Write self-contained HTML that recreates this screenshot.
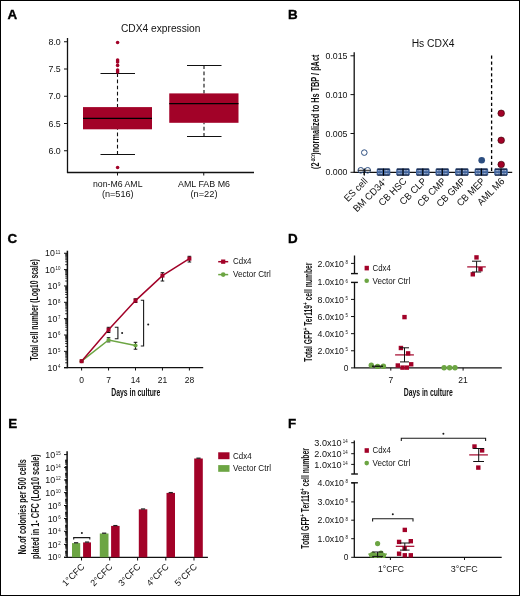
<!DOCTYPE html>
<html><head><meta charset="utf-8"><style>
html,body{margin:0;padding:0;background:#fff;}
svg{display:block;font-family:"Liberation Sans", sans-serif;will-change:transform;}
</style></head><body>
<svg width="520" height="596" viewBox="0 0 520 596">
<rect x="0" y="0" width="520" height="596" fill="#fff"/>
<rect x="0.5" y="0.5" width="519" height="595" fill="none" stroke="#000" stroke-width="1"/>
<text x="7.5" y="18.8" font-size="13.4" text-anchor="start" font-weight="bold" fill="#000" stroke="#000" stroke-width="0.35">A</text>
<text x="288.0" y="18.9" font-size="13.4" text-anchor="start" font-weight="bold" fill="#000" stroke="#000" stroke-width="0.35">B</text>
<text x="7.6" y="242.6" font-size="13.4" text-anchor="start" font-weight="bold" fill="#000" stroke="#000" stroke-width="0.35">C</text>
<text x="288.0" y="242.6" font-size="13.4" text-anchor="start" font-weight="bold" fill="#000" stroke="#000" stroke-width="0.35">D</text>
<text x="8.3" y="428.1" font-size="13.4" text-anchor="start" font-weight="bold" fill="#000" stroke="#000" stroke-width="0.35">E</text>
<text x="288.0" y="428.0" font-size="13.4" text-anchor="start" font-weight="bold" fill="#000" stroke="#000" stroke-width="0.35">F</text>
<text x="160.7" y="31.7" font-size="10" text-anchor="middle" font-weight="normal" fill="#111" textLength="79.4" lengthAdjust="spacingAndGlyphs" >CDX4 expression</text>
<line x1="67.5" y1="38" x2="67.5" y2="173" stroke="#111" stroke-width="1.3" />
<line x1="67" y1="172.5" x2="254" y2="172.5" stroke="#111" stroke-width="1.3" />
<line x1="64" y1="41.75" x2="67.5" y2="41.75" stroke="#111" stroke-width="1" />
<text x="60.8" y="44.75" font-size="8.5" text-anchor="end" font-weight="normal" fill="#111" textLength="12.3" lengthAdjust="spacingAndGlyphs" >8.0</text>
<line x1="64" y1="69" x2="67.5" y2="69" stroke="#111" stroke-width="1" />
<text x="60.8" y="72" font-size="8.5" text-anchor="end" font-weight="normal" fill="#111" textLength="12.3" lengthAdjust="spacingAndGlyphs" >7.5</text>
<line x1="64" y1="96.25" x2="67.5" y2="96.25" stroke="#111" stroke-width="1" />
<text x="60.8" y="99.25" font-size="8.5" text-anchor="end" font-weight="normal" fill="#111" textLength="12.3" lengthAdjust="spacingAndGlyphs" >7.0</text>
<line x1="64" y1="123.5" x2="67.5" y2="123.5" stroke="#111" stroke-width="1" />
<text x="60.8" y="126.5" font-size="8.5" text-anchor="end" font-weight="normal" fill="#111" textLength="12.3" lengthAdjust="spacingAndGlyphs" >6.5</text>
<line x1="64" y1="150.75" x2="67.5" y2="150.75" stroke="#111" stroke-width="1" />
<text x="60.8" y="153.75" font-size="8.5" text-anchor="end" font-weight="normal" fill="#111" textLength="12.3" lengthAdjust="spacingAndGlyphs" >6.0</text>
<line x1="117.5" y1="172.5" x2="117.5" y2="175.5" stroke="#111" stroke-width="1" />
<line x1="203.75" y1="172.5" x2="203.75" y2="175.5" stroke="#111" stroke-width="1" />
<line x1="117.5" y1="73.5" x2="117.5" y2="107.1" stroke="#111" stroke-width="1.1" stroke-dasharray="3.6,2.5"/>
<line x1="117.5" y1="154.5" x2="117.5" y2="129.3" stroke="#111" stroke-width="1.1" stroke-dasharray="3.6,2.5"/>
<line x1="100.5" y1="73.5" x2="135" y2="73.5" stroke="#111" stroke-width="1" />
<line x1="100.5" y1="154.5" x2="135" y2="154.5" stroke="#111" stroke-width="1" />
<rect x="83" y="107.1" width="69" height="22.200000000000017" fill="#a20228" />
<line x1="83" y1="118.4" x2="152" y2="118.4" stroke="#000" stroke-width="1.4" />
<line x1="204" y1="65.5" x2="204" y2="93.4" stroke="#111" stroke-width="1.1" stroke-dasharray="3.6,2.5"/>
<line x1="204" y1="136.5" x2="204" y2="122.8" stroke="#111" stroke-width="1.1" stroke-dasharray="3.6,2.5"/>
<line x1="187" y1="65.5" x2="221.5" y2="65.5" stroke="#111" stroke-width="1" />
<line x1="187" y1="136.5" x2="221.5" y2="136.5" stroke="#111" stroke-width="1" />
<rect x="169.25" y="93.4" width="69.25" height="29.39999999999999" fill="#a20228" />
<line x1="169.25" y1="103.6" x2="238.5" y2="103.6" stroke="#000" stroke-width="1.4" />
<circle cx="117.6" cy="42.5" r="1.8" fill="#a20228" stroke="none" stroke-width="1"/>
<circle cx="117.6" cy="60" r="1.8" fill="#a20228" stroke="none" stroke-width="1"/>
<circle cx="117.6" cy="61.9" r="1.8" fill="#a20228" stroke="none" stroke-width="1"/>
<circle cx="117.6" cy="65.4" r="1.8" fill="#a20228" stroke="none" stroke-width="1"/>
<circle cx="117.6" cy="70" r="1.8" fill="#a20228" stroke="none" stroke-width="1"/>
<circle cx="117.6" cy="71.9" r="1.8" fill="#a20228" stroke="none" stroke-width="1"/>
<circle cx="117.6" cy="167.5" r="1.8" fill="#a20228" stroke="none" stroke-width="1"/>
<text x="117.75" y="187.1" font-size="9.3" text-anchor="middle" font-weight="normal" fill="#111" textLength="49.5" lengthAdjust="spacingAndGlyphs" >non-M6 AML</text>
<text x="117.75" y="197.2" font-size="9.3" text-anchor="middle" font-weight="normal" fill="#111" textLength="31.7" lengthAdjust="spacingAndGlyphs" >(n=516)</text>
<text x="204" y="187.1" font-size="9.3" text-anchor="middle" font-weight="normal" fill="#111" textLength="52" lengthAdjust="spacingAndGlyphs" >AML FAB M6</text>
<text x="204" y="197.2" font-size="9.3" text-anchor="middle" font-weight="normal" fill="#111" textLength="27" lengthAdjust="spacingAndGlyphs" >(n=22)</text>
<text x="433.1" y="46.8" font-size="10" text-anchor="middle" font-weight="normal" fill="#111" textLength="42.9" lengthAdjust="spacingAndGlyphs" >Hs CDX4</text>
<line x1="354.2" y1="52.3" x2="354.2" y2="172.8" stroke="#111" stroke-width="1.3" />
<line x1="353.7" y1="172.3" x2="512.2" y2="172.3" stroke="#111" stroke-width="1.3" />
<line x1="350.5" y1="55.8" x2="354.2" y2="55.8" stroke="#111" stroke-width="1" />
<text x="347.5" y="58.8" font-size="8.5" text-anchor="end" font-weight="normal" fill="#111" textLength="22" lengthAdjust="spacingAndGlyphs" >0.015</text>
<line x1="350.5" y1="94.6" x2="354.2" y2="94.6" stroke="#111" stroke-width="1" />
<text x="347.5" y="97.6" font-size="8.5" text-anchor="end" font-weight="normal" fill="#111" textLength="22" lengthAdjust="spacingAndGlyphs" >0.010</text>
<line x1="350.5" y1="133.5" x2="354.2" y2="133.5" stroke="#111" stroke-width="1" />
<text x="347.5" y="136.5" font-size="8.5" text-anchor="end" font-weight="normal" fill="#111" textLength="22" lengthAdjust="spacingAndGlyphs" >0.005</text>
<line x1="350.5" y1="172.3" x2="354.2" y2="172.3" stroke="#111" stroke-width="1" />
<text x="347.5" y="175.3" font-size="8.5" text-anchor="end" font-weight="normal" fill="#111" textLength="22" lengthAdjust="spacingAndGlyphs" >0.000</text>
<line x1="364" y1="172.3" x2="364" y2="175.2" stroke="#111" stroke-width="1" />
<text x="368.2" y="181.9" font-size="9.8" text-anchor="end" font-weight="normal" fill="#111" textLength="28.7" lengthAdjust="spacingAndGlyphs" transform="rotate(-45 368.2 181.9)" >ES cell</text>
<line x1="383.5" y1="172.3" x2="383.5" y2="175.2" stroke="#111" stroke-width="1" />
<text x="387.7" y="181.9" font-size="9.8" text-anchor="end" font-weight="normal" fill="#111" textLength="43.4" lengthAdjust="spacingAndGlyphs" transform="rotate(-45 387.7 181.9)" >BM CD34<tspan font-size="5.5" dy="-3">+</tspan></text>
<line x1="403" y1="172.3" x2="403" y2="175.2" stroke="#111" stroke-width="1" />
<text x="407.2" y="181.9" font-size="9.8" text-anchor="end" font-weight="normal" fill="#111" textLength="34.8" lengthAdjust="spacingAndGlyphs" transform="rotate(-45 407.2 181.9)" >CB HSC</text>
<line x1="422.8" y1="172.3" x2="422.8" y2="175.2" stroke="#111" stroke-width="1" />
<text x="427.0" y="181.9" font-size="9.8" text-anchor="end" font-weight="normal" fill="#111" textLength="33.3" lengthAdjust="spacingAndGlyphs" transform="rotate(-45 427.0 181.9)" >CB CLP</text>
<line x1="442.3" y1="172.3" x2="442.3" y2="175.2" stroke="#111" stroke-width="1" />
<text x="446.5" y="181.9" font-size="9.8" text-anchor="end" font-weight="normal" fill="#111" textLength="35.8" lengthAdjust="spacingAndGlyphs" transform="rotate(-45 446.5 181.9)" >CB CMP</text>
<line x1="461.9" y1="172.3" x2="461.9" y2="175.2" stroke="#111" stroke-width="1" />
<text x="466.09999999999997" y="181.9" font-size="9.8" text-anchor="end" font-weight="normal" fill="#111" textLength="36.3" lengthAdjust="spacingAndGlyphs" transform="rotate(-45 466.09999999999997 181.9)" >CB GMP</text>
<line x1="481.4" y1="172.3" x2="481.4" y2="175.2" stroke="#111" stroke-width="1" />
<text x="485.59999999999997" y="181.9" font-size="9.8" text-anchor="end" font-weight="normal" fill="#111" textLength="35.3" lengthAdjust="spacingAndGlyphs" transform="rotate(-45 485.59999999999997 181.9)" >CB MEP</text>
<line x1="501" y1="172.3" x2="501" y2="175.2" stroke="#111" stroke-width="1" />
<text x="505.2" y="181.9" font-size="9.8" text-anchor="end" font-weight="normal" fill="#111" textLength="34.0" lengthAdjust="spacingAndGlyphs" transform="rotate(-45 505.2 181.9)" >AML M6</text>
<line x1="491.6" y1="55.5" x2="491.6" y2="172.3" stroke="#000" stroke-width="1.3" stroke-dasharray="3.3,2.6"/>
<circle cx="364.3" cy="152.6" r="2.8" fill="none" stroke="#2d4e80" stroke-width="1"/>
<circle cx="360.8" cy="170.3" r="2.8" fill="none" stroke="#2d4e80" stroke-width="1"/>
<circle cx="367.7" cy="170.3" r="2.8" fill="none" stroke="#2d4e80" stroke-width="1"/>
<line x1="358" y1="170.3" x2="370.8" y2="170.3" stroke="#222" stroke-width="1.0" />
<line x1="364.4" y1="168.5" x2="364.4" y2="175.6" stroke="#111" stroke-width="1.1" />
<rect x="376.7" y="168.6" width="13.6" height="7" rx="1.3" fill="#42659e"/>
<line x1="377.5" y1="169.1" x2="389.5" y2="169.1" stroke="#0a1630" stroke-width="1.1" />
<line x1="377.5" y1="175.1" x2="389.5" y2="175.1" stroke="#0a1630" stroke-width="1.1" />
<line x1="378.3" y1="170.7" x2="382.3" y2="170.7" stroke="#e8edf5" stroke-width="0.8" stroke-dasharray="0.9,0.5"/>
<line x1="384.7" y1="170.7" x2="388.7" y2="170.7" stroke="#e8edf5" stroke-width="0.8" stroke-dasharray="0.9,0.5"/>
<line x1="378.3" y1="173.7" x2="382.3" y2="173.7" stroke="#e8edf5" stroke-width="0.8" stroke-dasharray="0.9,0.5"/>
<line x1="384.7" y1="173.7" x2="388.7" y2="173.7" stroke="#e8edf5" stroke-width="0.8" stroke-dasharray="0.9,0.5"/>
<line x1="383.5" y1="168.6" x2="383.5" y2="175.6" stroke="#000" stroke-width="1.1" />
<rect x="396.2" y="168.6" width="13.6" height="7" rx="1.3" fill="#42659e"/>
<line x1="397.0" y1="169.1" x2="409.0" y2="169.1" stroke="#0a1630" stroke-width="1.1" />
<line x1="397.0" y1="175.1" x2="409.0" y2="175.1" stroke="#0a1630" stroke-width="1.1" />
<line x1="397.8" y1="170.7" x2="401.8" y2="170.7" stroke="#e8edf5" stroke-width="0.8" stroke-dasharray="0.9,0.5"/>
<line x1="404.2" y1="170.7" x2="408.2" y2="170.7" stroke="#e8edf5" stroke-width="0.8" stroke-dasharray="0.9,0.5"/>
<line x1="397.8" y1="173.7" x2="401.8" y2="173.7" stroke="#e8edf5" stroke-width="0.8" stroke-dasharray="0.9,0.5"/>
<line x1="404.2" y1="173.7" x2="408.2" y2="173.7" stroke="#e8edf5" stroke-width="0.8" stroke-dasharray="0.9,0.5"/>
<line x1="403" y1="168.6" x2="403" y2="175.6" stroke="#000" stroke-width="1.1" />
<rect x="416.0" y="168.6" width="13.6" height="7" rx="1.3" fill="#42659e"/>
<line x1="416.8" y1="169.1" x2="428.8" y2="169.1" stroke="#0a1630" stroke-width="1.1" />
<line x1="416.8" y1="175.1" x2="428.8" y2="175.1" stroke="#0a1630" stroke-width="1.1" />
<line x1="417.6" y1="170.7" x2="421.6" y2="170.7" stroke="#e8edf5" stroke-width="0.8" stroke-dasharray="0.9,0.5"/>
<line x1="424.0" y1="170.7" x2="428.0" y2="170.7" stroke="#e8edf5" stroke-width="0.8" stroke-dasharray="0.9,0.5"/>
<line x1="417.6" y1="173.7" x2="421.6" y2="173.7" stroke="#e8edf5" stroke-width="0.8" stroke-dasharray="0.9,0.5"/>
<line x1="424.0" y1="173.7" x2="428.0" y2="173.7" stroke="#e8edf5" stroke-width="0.8" stroke-dasharray="0.9,0.5"/>
<line x1="422.8" y1="168.6" x2="422.8" y2="175.6" stroke="#000" stroke-width="1.1" />
<rect x="435.5" y="168.6" width="13.6" height="7" rx="1.3" fill="#42659e"/>
<line x1="436.3" y1="169.1" x2="448.3" y2="169.1" stroke="#0a1630" stroke-width="1.1" />
<line x1="436.3" y1="175.1" x2="448.3" y2="175.1" stroke="#0a1630" stroke-width="1.1" />
<line x1="437.1" y1="170.7" x2="441.1" y2="170.7" stroke="#e8edf5" stroke-width="0.8" stroke-dasharray="0.9,0.5"/>
<line x1="443.5" y1="170.7" x2="447.5" y2="170.7" stroke="#e8edf5" stroke-width="0.8" stroke-dasharray="0.9,0.5"/>
<line x1="437.1" y1="173.7" x2="441.1" y2="173.7" stroke="#e8edf5" stroke-width="0.8" stroke-dasharray="0.9,0.5"/>
<line x1="443.5" y1="173.7" x2="447.5" y2="173.7" stroke="#e8edf5" stroke-width="0.8" stroke-dasharray="0.9,0.5"/>
<line x1="442.3" y1="168.6" x2="442.3" y2="175.6" stroke="#000" stroke-width="1.1" />
<rect x="455.09999999999997" y="168.6" width="13.6" height="7" rx="1.3" fill="#42659e"/>
<line x1="455.9" y1="169.1" x2="467.9" y2="169.1" stroke="#0a1630" stroke-width="1.1" />
<line x1="455.9" y1="175.1" x2="467.9" y2="175.1" stroke="#0a1630" stroke-width="1.1" />
<line x1="456.7" y1="170.7" x2="460.7" y2="170.7" stroke="#e8edf5" stroke-width="0.8" stroke-dasharray="0.9,0.5"/>
<line x1="463.09999999999997" y1="170.7" x2="467.09999999999997" y2="170.7" stroke="#e8edf5" stroke-width="0.8" stroke-dasharray="0.9,0.5"/>
<line x1="456.7" y1="173.7" x2="460.7" y2="173.7" stroke="#e8edf5" stroke-width="0.8" stroke-dasharray="0.9,0.5"/>
<line x1="463.09999999999997" y1="173.7" x2="467.09999999999997" y2="173.7" stroke="#e8edf5" stroke-width="0.8" stroke-dasharray="0.9,0.5"/>
<line x1="461.9" y1="168.6" x2="461.9" y2="175.6" stroke="#000" stroke-width="1.1" />
<rect x="474.59999999999997" y="168.6" width="13.6" height="7" rx="1.3" fill="#42659e"/>
<line x1="475.4" y1="169.1" x2="487.4" y2="169.1" stroke="#0a1630" stroke-width="1.1" />
<line x1="475.4" y1="175.1" x2="487.4" y2="175.1" stroke="#0a1630" stroke-width="1.1" />
<line x1="476.2" y1="170.7" x2="480.2" y2="170.7" stroke="#e8edf5" stroke-width="0.8" stroke-dasharray="0.9,0.5"/>
<line x1="482.59999999999997" y1="170.7" x2="486.59999999999997" y2="170.7" stroke="#e8edf5" stroke-width="0.8" stroke-dasharray="0.9,0.5"/>
<line x1="476.2" y1="173.7" x2="480.2" y2="173.7" stroke="#e8edf5" stroke-width="0.8" stroke-dasharray="0.9,0.5"/>
<line x1="482.59999999999997" y1="173.7" x2="486.59999999999997" y2="173.7" stroke="#e8edf5" stroke-width="0.8" stroke-dasharray="0.9,0.5"/>
<line x1="481.4" y1="168.6" x2="481.4" y2="175.6" stroke="#000" stroke-width="1.1" />
<rect x="494.2" y="168.6" width="13.6" height="7" rx="1.3" fill="#42659e"/>
<line x1="495.0" y1="169.1" x2="507.0" y2="169.1" stroke="#0a1630" stroke-width="1.1" />
<line x1="495.0" y1="175.1" x2="507.0" y2="175.1" stroke="#0a1630" stroke-width="1.1" />
<line x1="495.8" y1="170.7" x2="499.8" y2="170.7" stroke="#e8edf5" stroke-width="0.8" stroke-dasharray="0.9,0.5"/>
<line x1="502.2" y1="170.7" x2="506.2" y2="170.7" stroke="#e8edf5" stroke-width="0.8" stroke-dasharray="0.9,0.5"/>
<line x1="495.8" y1="173.7" x2="499.8" y2="173.7" stroke="#e8edf5" stroke-width="0.8" stroke-dasharray="0.9,0.5"/>
<line x1="502.2" y1="173.7" x2="506.2" y2="173.7" stroke="#e8edf5" stroke-width="0.8" stroke-dasharray="0.9,0.5"/>
<line x1="501" y1="168.6" x2="501" y2="175.6" stroke="#000" stroke-width="1.1" />
<circle cx="481.7" cy="160.3" r="3.3" fill="#2d4e80" stroke="none" stroke-width="1"/>
<circle cx="501.2" cy="113.3" r="3.3" fill="#a20228" stroke="#300" stroke-width="0.6"/>
<circle cx="501.2" cy="140.3" r="3.3" fill="#a20228" stroke="#300" stroke-width="0.6"/>
<circle cx="501.2" cy="164.5" r="3.3" fill="#a20228" stroke="#300" stroke-width="0.6"/>
<text x="0" y="0" font-size="10" font-weight="bold" fill="#111" textLength="114.4" lengthAdjust="spacingAndGlyphs" transform="translate(318.8,169) rotate(-90)">(2<tspan font-size="5" dy="-3.6">-ΔCt</tspan><tspan dy="3.6">)normalized to Hs TBP / βAct</tspan></text>
<line x1="67.4" y1="250.7" x2="67.4" y2="368.2" stroke="#111" stroke-width="1.5" />
<line x1="64" y1="367.7" x2="203.2" y2="367.7" stroke="#111" stroke-width="1.3" />
<line x1="64" y1="367.7" x2="67.3" y2="367.7" stroke="#111" stroke-width="1" />
<text x="60.4" y="368.09999999999997" font-size="5.4" text-anchor="end" fill="#111" textLength="2.45" lengthAdjust="spacingAndGlyphs">4</text>
<text x="57.349999999999994" y="370.8" font-size="8.2" text-anchor="end" fill="#111" textLength="9.8" lengthAdjust="spacingAndGlyphs">10</text>
<line x1="65.2" y1="362.7781595708939" x2="67.4" y2="362.7781595708939" stroke="#111" stroke-width="0.9" />
<line x1="65.2" y1="359.8990674853335" x2="67.4" y2="359.8990674853335" stroke="#111" stroke-width="0.9" />
<line x1="65.2" y1="357.8563191417878" x2="67.4" y2="357.8563191417878" stroke="#111" stroke-width="0.9" />
<line x1="65.2" y1="356.2718404291061" x2="67.4" y2="356.2718404291061" stroke="#111" stroke-width="0.9" />
<line x1="65.2" y1="354.97722705622743" x2="67.4" y2="354.97722705622743" stroke="#111" stroke-width="0.9" />
<line x1="65.2" y1="353.8826470457669" x2="67.4" y2="353.8826470457669" stroke="#111" stroke-width="0.9" />
<line x1="65.2" y1="352.9344787126817" x2="67.4" y2="352.9344787126817" stroke="#111" stroke-width="0.9" />
<line x1="65.2" y1="352.09813497066705" x2="67.4" y2="352.09813497066705" stroke="#111" stroke-width="0.9" />
<line x1="64" y1="351.34999999999997" x2="67.3" y2="351.34999999999997" stroke="#111" stroke-width="1" />
<text x="60.4" y="351.74999999999994" font-size="5.4" text-anchor="end" fill="#111" textLength="2.45" lengthAdjust="spacingAndGlyphs">5</text>
<text x="57.349999999999994" y="354.45" font-size="8.2" text-anchor="end" fill="#111" textLength="9.8" lengthAdjust="spacingAndGlyphs">10</text>
<line x1="65.2" y1="346.42815957089385" x2="67.4" y2="346.42815957089385" stroke="#111" stroke-width="0.9" />
<line x1="65.2" y1="343.54906748533347" x2="67.4" y2="343.54906748533347" stroke="#111" stroke-width="0.9" />
<line x1="65.2" y1="341.5063191417878" x2="67.4" y2="341.5063191417878" stroke="#111" stroke-width="0.9" />
<line x1="65.2" y1="339.92184042910606" x2="67.4" y2="339.92184042910606" stroke="#111" stroke-width="0.9" />
<line x1="65.2" y1="338.6272270562274" x2="67.4" y2="338.6272270562274" stroke="#111" stroke-width="0.9" />
<line x1="65.2" y1="337.53264704576685" x2="67.4" y2="337.53264704576685" stroke="#111" stroke-width="0.9" />
<line x1="65.2" y1="336.5844787126817" x2="67.4" y2="336.5844787126817" stroke="#111" stroke-width="0.9" />
<line x1="65.2" y1="335.748134970667" x2="67.4" y2="335.748134970667" stroke="#111" stroke-width="0.9" />
<line x1="64" y1="335.0" x2="67.3" y2="335.0" stroke="#111" stroke-width="1" />
<text x="60.4" y="335.4" font-size="5.4" text-anchor="end" fill="#111" textLength="2.45" lengthAdjust="spacingAndGlyphs">6</text>
<text x="57.349999999999994" y="338.1" font-size="8.2" text-anchor="end" fill="#111" textLength="9.8" lengthAdjust="spacingAndGlyphs">10</text>
<line x1="65.2" y1="330.0781595708939" x2="67.4" y2="330.0781595708939" stroke="#111" stroke-width="0.9" />
<line x1="65.2" y1="327.1990674853335" x2="67.4" y2="327.1990674853335" stroke="#111" stroke-width="0.9" />
<line x1="65.2" y1="325.15631914178783" x2="67.4" y2="325.15631914178783" stroke="#111" stroke-width="0.9" />
<line x1="65.2" y1="323.5718404291061" x2="67.4" y2="323.5718404291061" stroke="#111" stroke-width="0.9" />
<line x1="65.2" y1="322.27722705622745" x2="67.4" y2="322.27722705622745" stroke="#111" stroke-width="0.9" />
<line x1="65.2" y1="321.1826470457669" x2="67.4" y2="321.1826470457669" stroke="#111" stroke-width="0.9" />
<line x1="65.2" y1="320.2344787126817" x2="67.4" y2="320.2344787126817" stroke="#111" stroke-width="0.9" />
<line x1="65.2" y1="319.39813497066706" x2="67.4" y2="319.39813497066706" stroke="#111" stroke-width="0.9" />
<line x1="64" y1="318.65" x2="67.3" y2="318.65" stroke="#111" stroke-width="1" />
<text x="60.4" y="319.04999999999995" font-size="5.4" text-anchor="end" fill="#111" textLength="2.45" lengthAdjust="spacingAndGlyphs">7</text>
<text x="57.349999999999994" y="321.75" font-size="8.2" text-anchor="end" fill="#111" textLength="9.8" lengthAdjust="spacingAndGlyphs">10</text>
<line x1="65.2" y1="313.72815957089387" x2="67.4" y2="313.72815957089387" stroke="#111" stroke-width="0.9" />
<line x1="65.2" y1="310.8490674853335" x2="67.4" y2="310.8490674853335" stroke="#111" stroke-width="0.9" />
<line x1="65.2" y1="308.8063191417878" x2="67.4" y2="308.8063191417878" stroke="#111" stroke-width="0.9" />
<line x1="65.2" y1="307.22184042910607" x2="67.4" y2="307.22184042910607" stroke="#111" stroke-width="0.9" />
<line x1="65.2" y1="305.9272270562274" x2="67.4" y2="305.9272270562274" stroke="#111" stroke-width="0.9" />
<line x1="65.2" y1="304.83264704576686" x2="67.4" y2="304.83264704576686" stroke="#111" stroke-width="0.9" />
<line x1="65.2" y1="303.8844787126817" x2="67.4" y2="303.8844787126817" stroke="#111" stroke-width="0.9" />
<line x1="65.2" y1="303.04813497066704" x2="67.4" y2="303.04813497066704" stroke="#111" stroke-width="0.9" />
<line x1="64" y1="302.29999999999995" x2="67.3" y2="302.29999999999995" stroke="#111" stroke-width="1" />
<text x="60.4" y="302.69999999999993" font-size="5.4" text-anchor="end" fill="#111" textLength="2.45" lengthAdjust="spacingAndGlyphs">8</text>
<text x="57.349999999999994" y="305.4" font-size="8.2" text-anchor="end" fill="#111" textLength="9.8" lengthAdjust="spacingAndGlyphs">10</text>
<line x1="65.2" y1="297.37815957089384" x2="67.4" y2="297.37815957089384" stroke="#111" stroke-width="0.9" />
<line x1="65.2" y1="294.49906748533346" x2="67.4" y2="294.49906748533346" stroke="#111" stroke-width="0.9" />
<line x1="65.2" y1="292.4563191417878" x2="67.4" y2="292.4563191417878" stroke="#111" stroke-width="0.9" />
<line x1="65.2" y1="290.87184042910604" x2="67.4" y2="290.87184042910604" stroke="#111" stroke-width="0.9" />
<line x1="65.2" y1="289.5772270562274" x2="67.4" y2="289.5772270562274" stroke="#111" stroke-width="0.9" />
<line x1="65.2" y1="288.48264704576684" x2="67.4" y2="288.48264704576684" stroke="#111" stroke-width="0.9" />
<line x1="65.2" y1="287.5344787126817" x2="67.4" y2="287.5344787126817" stroke="#111" stroke-width="0.9" />
<line x1="65.2" y1="286.698134970667" x2="67.4" y2="286.698134970667" stroke="#111" stroke-width="0.9" />
<line x1="64" y1="285.95" x2="67.3" y2="285.95" stroke="#111" stroke-width="1" />
<text x="60.4" y="286.34999999999997" font-size="5.4" text-anchor="end" fill="#111" textLength="2.45" lengthAdjust="spacingAndGlyphs">9</text>
<text x="57.349999999999994" y="289.05" font-size="8.2" text-anchor="end" fill="#111" textLength="9.8" lengthAdjust="spacingAndGlyphs">10</text>
<line x1="65.2" y1="281.0281595708939" x2="67.4" y2="281.0281595708939" stroke="#111" stroke-width="0.9" />
<line x1="65.2" y1="278.1490674853335" x2="67.4" y2="278.1490674853335" stroke="#111" stroke-width="0.9" />
<line x1="65.2" y1="276.1063191417878" x2="67.4" y2="276.1063191417878" stroke="#111" stroke-width="0.9" />
<line x1="65.2" y1="274.5218404291061" x2="67.4" y2="274.5218404291061" stroke="#111" stroke-width="0.9" />
<line x1="65.2" y1="273.22722705622743" x2="67.4" y2="273.22722705622743" stroke="#111" stroke-width="0.9" />
<line x1="65.2" y1="272.1326470457669" x2="67.4" y2="272.1326470457669" stroke="#111" stroke-width="0.9" />
<line x1="65.2" y1="271.1844787126817" x2="67.4" y2="271.1844787126817" stroke="#111" stroke-width="0.9" />
<line x1="65.2" y1="270.34813497066705" x2="67.4" y2="270.34813497066705" stroke="#111" stroke-width="0.9" />
<line x1="64" y1="269.59999999999997" x2="67.3" y2="269.59999999999997" stroke="#111" stroke-width="1" />
<text x="60.4" y="269.99999999999994" font-size="5.4" text-anchor="end" fill="#111" textLength="4.9" lengthAdjust="spacingAndGlyphs">10</text>
<text x="54.9" y="272.7" font-size="8.2" text-anchor="end" fill="#111" textLength="9.8" lengthAdjust="spacingAndGlyphs">10</text>
<line x1="65.2" y1="264.67815957089385" x2="67.4" y2="264.67815957089385" stroke="#111" stroke-width="0.9" />
<line x1="65.2" y1="261.79906748533347" x2="67.4" y2="261.79906748533347" stroke="#111" stroke-width="0.9" />
<line x1="65.2" y1="259.7563191417878" x2="67.4" y2="259.7563191417878" stroke="#111" stroke-width="0.9" />
<line x1="65.2" y1="258.17184042910606" x2="67.4" y2="258.17184042910606" stroke="#111" stroke-width="0.9" />
<line x1="65.2" y1="256.8772270562274" x2="67.4" y2="256.8772270562274" stroke="#111" stroke-width="0.9" />
<line x1="65.2" y1="255.78264704576688" x2="67.4" y2="255.78264704576688" stroke="#111" stroke-width="0.9" />
<line x1="65.2" y1="254.8344787126817" x2="67.4" y2="254.8344787126817" stroke="#111" stroke-width="0.9" />
<line x1="65.2" y1="253.998134970667" x2="67.4" y2="253.998134970667" stroke="#111" stroke-width="0.9" />
<line x1="64" y1="253.24999999999997" x2="67.3" y2="253.24999999999997" stroke="#111" stroke-width="1" />
<text x="60.4" y="253.64999999999998" font-size="5.4" text-anchor="end" fill="#111" textLength="4.9" lengthAdjust="spacingAndGlyphs">11</text>
<text x="54.9" y="256.34999999999997" font-size="8.2" text-anchor="end" fill="#111" textLength="9.8" lengthAdjust="spacingAndGlyphs">10</text>
<line x1="81.6" y1="367.7" x2="81.6" y2="370.5" stroke="#111" stroke-width="1" />
<text x="81.6" y="383" font-size="8.5" text-anchor="middle" font-weight="normal" fill="#111" >0</text>
<line x1="108.55" y1="367.7" x2="108.55" y2="370.5" stroke="#111" stroke-width="1" />
<text x="108.55" y="383" font-size="8.5" text-anchor="middle" font-weight="normal" fill="#111" >7</text>
<line x1="135.5" y1="367.7" x2="135.5" y2="370.5" stroke="#111" stroke-width="1" />
<text x="135.5" y="383" font-size="8.5" text-anchor="middle" font-weight="normal" fill="#111" >14</text>
<line x1="162.45" y1="367.7" x2="162.45" y2="370.5" stroke="#111" stroke-width="1" />
<text x="162.45" y="383" font-size="8.5" text-anchor="middle" font-weight="normal" fill="#111" >21</text>
<line x1="189.39999999999998" y1="367.7" x2="189.39999999999998" y2="370.5" stroke="#111" stroke-width="1" />
<text x="189.39999999999998" y="383" font-size="8.5" text-anchor="middle" font-weight="normal" fill="#111" >28</text>
<text x="135.8" y="396.4" font-size="10" text-anchor="middle" font-weight="bold" fill="#111" textLength="49" lengthAdjust="spacingAndGlyphs" >Days in culture</text>
<text x="0" y="0" font-size="10.2" font-weight="bold" fill="#111" textLength="101.4" lengthAdjust="spacingAndGlyphs" transform="translate(37.8,360.6) rotate(-90)">Total cell number (Log10 scale)</text>
<line x1="108.55" y1="327.3" x2="108.55" y2="332.5" stroke="#111" stroke-width="1" />
<line x1="106.75" y1="327.3" x2="110.35" y2="327.3" stroke="#111" stroke-width="1" />
<line x1="106.75" y1="332.5" x2="110.35" y2="332.5" stroke="#111" stroke-width="1" />
<line x1="135.5" y1="298.8" x2="135.5" y2="302.5" stroke="#111" stroke-width="1" />
<line x1="133.7" y1="298.8" x2="137.3" y2="298.8" stroke="#111" stroke-width="1" />
<line x1="133.7" y1="302.5" x2="137.3" y2="302.5" stroke="#111" stroke-width="1" />
<line x1="162.45" y1="272.7" x2="162.45" y2="281" stroke="#111" stroke-width="1" />
<line x1="160.64999999999998" y1="272.7" x2="164.25" y2="272.7" stroke="#111" stroke-width="1" />
<line x1="160.64999999999998" y1="281" x2="164.25" y2="281" stroke="#111" stroke-width="1" />
<line x1="189.39999999999998" y1="256.3" x2="189.39999999999998" y2="262" stroke="#111" stroke-width="1" />
<line x1="187.59999999999997" y1="256.3" x2="191.2" y2="256.3" stroke="#111" stroke-width="1" />
<line x1="187.59999999999997" y1="262" x2="191.2" y2="262" stroke="#111" stroke-width="1" />
<line x1="108.55" y1="337.7" x2="108.55" y2="341.9" stroke="#111" stroke-width="1" />
<line x1="106.75" y1="337.7" x2="110.35" y2="337.7" stroke="#111" stroke-width="1" />
<line x1="106.75" y1="341.9" x2="110.35" y2="341.9" stroke="#111" stroke-width="1" />
<line x1="135.5" y1="342.3" x2="135.5" y2="349.2" stroke="#111" stroke-width="1" />
<line x1="133.7" y1="342.3" x2="137.3" y2="342.3" stroke="#111" stroke-width="1" />
<line x1="133.7" y1="349.2" x2="137.3" y2="349.2" stroke="#111" stroke-width="1" />
<polyline fill="none" stroke="#6ca543" stroke-width="1.5" points="81.6,361.2 108.55,340 135.5,345.5"/>
<circle cx="81.6" cy="361.2" r="2.1" fill="#6ca543" stroke="none" stroke-width="1"/>
<circle cx="108.55" cy="340" r="2.1" fill="#6ca543" stroke="none" stroke-width="1"/>
<circle cx="135.5" cy="345.5" r="2.1" fill="#6ca543" stroke="none" stroke-width="1"/>
<polyline fill="none" stroke="#a20228" stroke-width="1.5" points="81.6,361.2 108.55,329.8 135.5,300.6 162.45,275.6 189.39999999999998,258.7"/>
<rect x="79.6" y="359.2" width="4" height="4" fill="#a20228" />
<rect x="106.55" y="327.8" width="4" height="4" fill="#a20228" />
<rect x="133.5" y="298.6" width="4" height="4" fill="#a20228" />
<rect x="160.45" y="273.6" width="4" height="4" fill="#a20228" />
<rect x="187.39999999999998" y="256.7" width="4" height="4" fill="#a20228" />
<polyline fill="none" stroke="#1a1a1a" stroke-width="1.1" points="114.8,327.3 117.9,327.3 117.9,338.8 114.8,338.8"/>
<polyline fill="none" stroke="#1a1a1a" stroke-width="1.1" points="140.8,300.2 143.6,300.2 143.6,346 140.8,346"/>
<circle cx="122.1" cy="333.1" r="1.0" fill="#1a1a1a" stroke="none" stroke-width="1"/>
<circle cx="148.2" cy="324.4" r="1.0" fill="#1a1a1a" stroke="none" stroke-width="1"/>
<line x1="218.2" y1="261.7" x2="228.2" y2="261.7" stroke="#a20228" stroke-width="1.5" />
<rect x="221.1" y="259.5" width="4.2" height="4.3" fill="#a20228" />
<text x="233" y="264.3" font-size="8.5" text-anchor="start" font-weight="normal" fill="#111" textLength="18.5" lengthAdjust="spacingAndGlyphs" >Cdx4</text>
<line x1="218.2" y1="274.6" x2="228.2" y2="274.6" stroke="#6ca543" stroke-width="1.5" />
<circle cx="223.2" cy="274.6" r="2.3" fill="#6ca543" stroke="none" stroke-width="1"/>
<text x="233" y="277.2" font-size="8.5" text-anchor="start" font-weight="normal" fill="#111" textLength="37.8" lengthAdjust="spacingAndGlyphs" >Vector Ctrl</text>
<line x1="354.5" y1="255.5" x2="354.5" y2="273.6" stroke="#111" stroke-width="1.3" />
<line x1="351" y1="273.6" x2="357.9" y2="273.6" stroke="#111" stroke-width="1.4" />
<line x1="351" y1="282.4" x2="357.9" y2="282.4" stroke="#111" stroke-width="1.4" />
<line x1="354.5" y1="282.4" x2="354.5" y2="368.2" stroke="#111" stroke-width="1.3" />
<line x1="354.5" y1="367.9" x2="501.8" y2="367.9" stroke="#111" stroke-width="1.3" />
<line x1="351" y1="263.4" x2="354.5" y2="263.4" stroke="#111" stroke-width="1" />
<text x="347.9" y="263.79999999999995" font-size="5.4" text-anchor="end" fill="#111" textLength="2.45" lengthAdjust="spacingAndGlyphs">8</text>
<text x="343.95" y="266.5" font-size="8.2" text-anchor="end" fill="#111" textLength="26.4" lengthAdjust="spacingAndGlyphs">2.0x10</text>
<text x="347.9" y="282.7" font-size="5.4" text-anchor="end" fill="#111" textLength="2.45" lengthAdjust="spacingAndGlyphs">6</text>
<text x="343.95" y="285.40000000000003" font-size="8.2" text-anchor="end" fill="#111" textLength="26.4" lengthAdjust="spacingAndGlyphs">1.0x10</text>
<line x1="351" y1="299.41999999999996" x2="354.5" y2="299.41999999999996" stroke="#111" stroke-width="1" />
<text x="347.9" y="299.81999999999994" font-size="5.4" text-anchor="end" fill="#111" textLength="2.45" lengthAdjust="spacingAndGlyphs">5</text>
<text x="343.95" y="302.52" font-size="8.2" text-anchor="end" fill="#111" textLength="26.4" lengthAdjust="spacingAndGlyphs">8.0x10</text>
<line x1="351" y1="316.53999999999996" x2="354.5" y2="316.53999999999996" stroke="#111" stroke-width="1" />
<text x="347.9" y="316.93999999999994" font-size="5.4" text-anchor="end" fill="#111" textLength="2.45" lengthAdjust="spacingAndGlyphs">5</text>
<text x="343.95" y="319.64" font-size="8.2" text-anchor="end" fill="#111" textLength="26.4" lengthAdjust="spacingAndGlyphs">6.0x10</text>
<line x1="351" y1="333.65999999999997" x2="354.5" y2="333.65999999999997" stroke="#111" stroke-width="1" />
<text x="347.9" y="334.05999999999995" font-size="5.4" text-anchor="end" fill="#111" textLength="2.45" lengthAdjust="spacingAndGlyphs">5</text>
<text x="343.95" y="336.76" font-size="8.2" text-anchor="end" fill="#111" textLength="26.4" lengthAdjust="spacingAndGlyphs">4.0x10</text>
<line x1="351" y1="350.78" x2="354.5" y2="350.78" stroke="#111" stroke-width="1" />
<text x="347.9" y="351.17999999999995" font-size="5.4" text-anchor="end" fill="#111" textLength="2.45" lengthAdjust="spacingAndGlyphs">5</text>
<text x="343.95" y="353.88" font-size="8.2" text-anchor="end" fill="#111" textLength="26.4" lengthAdjust="spacingAndGlyphs">2.0x10</text>
<line x1="351" y1="367.9" x2="354.5" y2="367.9" stroke="#111" stroke-width="1" />
<text x="348.3" y="370.8" font-size="8.4" text-anchor="end" font-weight="normal" fill="#111" >0</text>
<line x1="390.8" y1="367.9" x2="390.8" y2="370.6" stroke="#111" stroke-width="1" />
<text x="390.8" y="383" font-size="8.5" text-anchor="middle" font-weight="normal" fill="#111" >7</text>
<line x1="463.1" y1="367.9" x2="463.1" y2="370.6" stroke="#111" stroke-width="1" />
<text x="463.1" y="383" font-size="8.5" text-anchor="middle" font-weight="normal" fill="#111" >21</text>
<text x="428.2" y="396.4" font-size="10" text-anchor="middle" font-weight="bold" fill="#111" textLength="49" lengthAdjust="spacingAndGlyphs" >Days in culture</text>
<text x="0" y="0" font-size="10" font-weight="bold" fill="#111" textLength="99.2" lengthAdjust="spacingAndGlyphs" transform="translate(311.5,361.7) rotate(-90)">Total GFP<tspan font-size="6.5" dy="-3.2">+</tspan><tspan dy="3.2"> Ter119</tspan><tspan font-size="6.5" dy="-3.2">+</tspan><tspan dy="3.2"> cell number</tspan></text>
<rect x="364.6" y="265.8" width="4.3" height="4.6" fill="#a20228" />
<text x="372.6" y="270.8" font-size="8.5" text-anchor="start" font-weight="normal" fill="#111" textLength="18.2" lengthAdjust="spacingAndGlyphs" >Cdx4</text>
<circle cx="366.7" cy="280.7" r="2.3" fill="#6ca543" stroke="none" stroke-width="1"/>
<text x="372.6" y="283.8" font-size="8.5" text-anchor="start" font-weight="normal" fill="#111" textLength="37.7" lengthAdjust="spacingAndGlyphs" >Vector Ctrl</text>
<circle cx="371.3" cy="365.2" r="2.7" fill="#6ca543" stroke="none" stroke-width="1"/>
<circle cx="377.6" cy="366.4" r="2.7" fill="#6ca543" stroke="none" stroke-width="1"/>
<circle cx="383.4" cy="366.2" r="2.7" fill="#6ca543" stroke="none" stroke-width="1"/>
<line x1="372" y1="366.2" x2="383" y2="366.2" stroke="#000" stroke-width="1.2" />
<rect x="402.3" y="314.90000000000003" width="4.4" height="4.4" fill="#a20228" />
<rect x="398.7" y="345.8" width="4.4" height="4.4" fill="#a20228" />
<rect x="405.90000000000003" y="351.2" width="4.4" height="4.4" fill="#a20228" />
<rect x="395.6" y="363.3" width="4.4" height="4.4" fill="#a20228" />
<rect x="409.0" y="362.1" width="4.4" height="4.4" fill="#a20228" />
<rect x="400.3" y="365.40000000000003" width="4.4" height="4.4" fill="#a20228" />
<rect x="404.6" y="365.40000000000003" width="4.4" height="4.4" fill="#a20228" />
<line x1="395.1" y1="354.9" x2="413.9" y2="354.9" stroke="#a20228" stroke-width="1.2" />
<line x1="404.5" y1="347.8" x2="404.5" y2="361.9" stroke="#111" stroke-width="1" />
<line x1="400" y1="347.8" x2="409" y2="347.8" stroke="#111" stroke-width="1" />
<line x1="400" y1="361.9" x2="409" y2="361.9" stroke="#111" stroke-width="1" />
<circle cx="444.1" cy="367.7" r="2.7" fill="#6ca543" stroke="none" stroke-width="1"/>
<circle cx="449.6" cy="367.7" r="2.7" fill="#6ca543" stroke="none" stroke-width="1"/>
<circle cx="455" cy="367.7" r="2.7" fill="#6ca543" stroke="none" stroke-width="1"/>
<rect x="474.3" y="255.2" width="4.4" height="4.4" fill="#a20228" />
<rect x="478.3" y="267.0" width="4.4" height="4.4" fill="#a20228" />
<rect x="470.6" y="272.1" width="4.4" height="4.4" fill="#a20228" />
<line x1="467.2" y1="266.9" x2="485.8" y2="266.9" stroke="#a20228" stroke-width="1.2" />
<line x1="476.6" y1="261.2" x2="476.6" y2="272" stroke="#111" stroke-width="1" />
<line x1="472" y1="261.2" x2="481.2" y2="261.2" stroke="#111" stroke-width="1" />
<line x1="472" y1="272" x2="481.2" y2="272" stroke="#111" stroke-width="1" />
<line x1="67.1" y1="451.3" x2="67.1" y2="557.8" stroke="#111" stroke-width="1.5" />
<line x1="64" y1="557.3" x2="207.9" y2="557.3" stroke="#111" stroke-width="1.3" />
<line x1="64" y1="454.6" x2="67.1" y2="454.6" stroke="#111" stroke-width="1" />
<text x="60.6" y="455.0" font-size="5.4" text-anchor="end" fill="#111" textLength="4.9" lengthAdjust="spacingAndGlyphs">15</text>
<text x="55.1" y="457.70000000000005" font-size="8.2" text-anchor="end" fill="#111" textLength="9.9" lengthAdjust="spacingAndGlyphs">10</text>
<line x1="64" y1="467.4" x2="67.1" y2="467.4" stroke="#111" stroke-width="1" />
<text x="60.6" y="467.79999999999995" font-size="5.4" text-anchor="end" fill="#111" textLength="4.9" lengthAdjust="spacingAndGlyphs">14</text>
<text x="55.1" y="470.5" font-size="8.2" text-anchor="end" fill="#111" textLength="9.9" lengthAdjust="spacingAndGlyphs">10</text>
<line x1="64" y1="480" x2="67.1" y2="480" stroke="#111" stroke-width="1" />
<text x="60.6" y="480.4" font-size="5.4" text-anchor="end" fill="#111" textLength="4.9" lengthAdjust="spacingAndGlyphs">12</text>
<text x="55.1" y="483.1" font-size="8.2" text-anchor="end" fill="#111" textLength="9.9" lengthAdjust="spacingAndGlyphs">10</text>
<line x1="64" y1="492.6" x2="67.1" y2="492.6" stroke="#111" stroke-width="1" />
<text x="60.6" y="493.0" font-size="5.4" text-anchor="end" fill="#111" textLength="4.9" lengthAdjust="spacingAndGlyphs">10</text>
<text x="55.1" y="495.70000000000005" font-size="8.2" text-anchor="end" fill="#111" textLength="9.9" lengthAdjust="spacingAndGlyphs">10</text>
<line x1="64" y1="505.5" x2="67.1" y2="505.5" stroke="#111" stroke-width="1" />
<text x="60.6" y="505.9" font-size="5.4" text-anchor="end" fill="#111" textLength="2.45" lengthAdjust="spacingAndGlyphs">8</text>
<text x="57.55" y="508.6" font-size="8.2" text-anchor="end" fill="#111" textLength="9.9" lengthAdjust="spacingAndGlyphs">10</text>
<line x1="64" y1="518.5" x2="67.1" y2="518.5" stroke="#111" stroke-width="1" />
<text x="60.6" y="518.9" font-size="5.4" text-anchor="end" fill="#111" textLength="2.45" lengthAdjust="spacingAndGlyphs">6</text>
<text x="57.55" y="521.6" font-size="8.2" text-anchor="end" fill="#111" textLength="9.9" lengthAdjust="spacingAndGlyphs">10</text>
<line x1="64" y1="531.3" x2="67.1" y2="531.3" stroke="#111" stroke-width="1" />
<text x="60.6" y="531.6999999999999" font-size="5.4" text-anchor="end" fill="#111" textLength="2.45" lengthAdjust="spacingAndGlyphs">4</text>
<text x="57.55" y="534.4" font-size="8.2" text-anchor="end" fill="#111" textLength="9.9" lengthAdjust="spacingAndGlyphs">10</text>
<line x1="64" y1="544.4" x2="67.1" y2="544.4" stroke="#111" stroke-width="1" />
<text x="60.6" y="544.8" font-size="5.4" text-anchor="end" fill="#111" textLength="2.45" lengthAdjust="spacingAndGlyphs">2</text>
<text x="57.55" y="547.5" font-size="8.2" text-anchor="end" fill="#111" textLength="9.9" lengthAdjust="spacingAndGlyphs">10</text>
<line x1="64" y1="557.3" x2="67.1" y2="557.3" stroke="#111" stroke-width="1" />
<text x="60.6" y="557.6999999999999" font-size="5.4" text-anchor="end" fill="#111" textLength="2.45" lengthAdjust="spacingAndGlyphs">0</text>
<text x="57.55" y="560.4" font-size="8.2" text-anchor="end" fill="#111" textLength="9.9" lengthAdjust="spacingAndGlyphs">10</text>
<line x1="65.2" y1="555.3433050281841" x2="67.1" y2="555.3433050281841" stroke="#111" stroke-width="0.8" />
<line x1="65.2" y1="554.1987118443221" x2="67.1" y2="554.1987118443221" stroke="#111" stroke-width="0.8" />
<line x1="65.2" y1="553.3866100563682" x2="67.1" y2="553.3866100563682" stroke="#111" stroke-width="0.8" />
<line x1="65.2" y1="552.7566949718158" x2="67.1" y2="552.7566949718158" stroke="#111" stroke-width="0.8" />
<line x1="65.2" y1="552.2420168725063" x2="67.1" y2="552.2420168725063" stroke="#111" stroke-width="0.8" />
<line x1="65.2" y1="551.8068627399073" x2="67.1" y2="551.8068627399073" stroke="#111" stroke-width="0.8" />
<line x1="65.2" y1="551.4299150845524" x2="67.1" y2="551.4299150845524" stroke="#111" stroke-width="0.8" />
<line x1="65.2" y1="551.0974236886443" x2="67.1" y2="551.0974236886443" stroke="#111" stroke-width="0.8" />
<line x1="65.2" y1="548.8433050281841" x2="67.1" y2="548.8433050281841" stroke="#111" stroke-width="0.8" />
<line x1="65.2" y1="547.6987118443221" x2="67.1" y2="547.6987118443221" stroke="#111" stroke-width="0.8" />
<line x1="65.2" y1="546.8866100563682" x2="67.1" y2="546.8866100563682" stroke="#111" stroke-width="0.8" />
<line x1="65.2" y1="546.2566949718158" x2="67.1" y2="546.2566949718158" stroke="#111" stroke-width="0.8" />
<line x1="65.2" y1="545.7420168725063" x2="67.1" y2="545.7420168725063" stroke="#111" stroke-width="0.8" />
<line x1="65.2" y1="545.3068627399073" x2="67.1" y2="545.3068627399073" stroke="#111" stroke-width="0.8" />
<line x1="65.2" y1="544.9299150845524" x2="67.1" y2="544.9299150845524" stroke="#111" stroke-width="0.8" />
<line x1="65.2" y1="544.5974236886443" x2="67.1" y2="544.5974236886443" stroke="#111" stroke-width="0.8" />
<line x1="65.2" y1="542.3433050281841" x2="67.1" y2="542.3433050281841" stroke="#111" stroke-width="0.8" />
<line x1="65.2" y1="541.1987118443221" x2="67.1" y2="541.1987118443221" stroke="#111" stroke-width="0.8" />
<line x1="65.2" y1="540.3866100563682" x2="67.1" y2="540.3866100563682" stroke="#111" stroke-width="0.8" />
<line x1="65.2" y1="539.7566949718158" x2="67.1" y2="539.7566949718158" stroke="#111" stroke-width="0.8" />
<line x1="65.2" y1="539.2420168725063" x2="67.1" y2="539.2420168725063" stroke="#111" stroke-width="0.8" />
<line x1="65.2" y1="538.8068627399073" x2="67.1" y2="538.8068627399073" stroke="#111" stroke-width="0.8" />
<line x1="65.2" y1="538.4299150845524" x2="67.1" y2="538.4299150845524" stroke="#111" stroke-width="0.8" />
<line x1="65.2" y1="538.0974236886443" x2="67.1" y2="538.0974236886443" stroke="#111" stroke-width="0.8" />
<line x1="65.2" y1="535.8433050281841" x2="67.1" y2="535.8433050281841" stroke="#111" stroke-width="0.8" />
<line x1="65.2" y1="534.6987118443221" x2="67.1" y2="534.6987118443221" stroke="#111" stroke-width="0.8" />
<line x1="65.2" y1="533.8866100563682" x2="67.1" y2="533.8866100563682" stroke="#111" stroke-width="0.8" />
<line x1="65.2" y1="533.2566949718158" x2="67.1" y2="533.2566949718158" stroke="#111" stroke-width="0.8" />
<line x1="65.2" y1="532.7420168725063" x2="67.1" y2="532.7420168725063" stroke="#111" stroke-width="0.8" />
<line x1="65.2" y1="532.3068627399073" x2="67.1" y2="532.3068627399073" stroke="#111" stroke-width="0.8" />
<line x1="65.2" y1="531.9299150845524" x2="67.1" y2="531.9299150845524" stroke="#111" stroke-width="0.8" />
<line x1="65.2" y1="531.5974236886443" x2="67.1" y2="531.5974236886443" stroke="#111" stroke-width="0.8" />
<line x1="65.2" y1="529.3433050281841" x2="67.1" y2="529.3433050281841" stroke="#111" stroke-width="0.8" />
<line x1="65.2" y1="528.1987118443221" x2="67.1" y2="528.1987118443221" stroke="#111" stroke-width="0.8" />
<line x1="65.2" y1="527.3866100563682" x2="67.1" y2="527.3866100563682" stroke="#111" stroke-width="0.8" />
<line x1="65.2" y1="526.7566949718158" x2="67.1" y2="526.7566949718158" stroke="#111" stroke-width="0.8" />
<line x1="65.2" y1="526.2420168725063" x2="67.1" y2="526.2420168725063" stroke="#111" stroke-width="0.8" />
<line x1="65.2" y1="525.8068627399073" x2="67.1" y2="525.8068627399073" stroke="#111" stroke-width="0.8" />
<line x1="65.2" y1="525.4299150845524" x2="67.1" y2="525.4299150845524" stroke="#111" stroke-width="0.8" />
<line x1="65.2" y1="525.0974236886443" x2="67.1" y2="525.0974236886443" stroke="#111" stroke-width="0.8" />
<line x1="65.2" y1="522.8433050281841" x2="67.1" y2="522.8433050281841" stroke="#111" stroke-width="0.8" />
<line x1="65.2" y1="521.6987118443221" x2="67.1" y2="521.6987118443221" stroke="#111" stroke-width="0.8" />
<line x1="65.2" y1="520.8866100563682" x2="67.1" y2="520.8866100563682" stroke="#111" stroke-width="0.8" />
<line x1="65.2" y1="520.2566949718158" x2="67.1" y2="520.2566949718158" stroke="#111" stroke-width="0.8" />
<line x1="65.2" y1="519.7420168725063" x2="67.1" y2="519.7420168725063" stroke="#111" stroke-width="0.8" />
<line x1="65.2" y1="519.3068627399073" x2="67.1" y2="519.3068627399073" stroke="#111" stroke-width="0.8" />
<line x1="65.2" y1="518.9299150845524" x2="67.1" y2="518.9299150845524" stroke="#111" stroke-width="0.8" />
<line x1="65.2" y1="518.5974236886443" x2="67.1" y2="518.5974236886443" stroke="#111" stroke-width="0.8" />
<line x1="65.2" y1="516.3433050281841" x2="67.1" y2="516.3433050281841" stroke="#111" stroke-width="0.8" />
<line x1="65.2" y1="515.1987118443221" x2="67.1" y2="515.1987118443221" stroke="#111" stroke-width="0.8" />
<line x1="65.2" y1="514.3866100563682" x2="67.1" y2="514.3866100563682" stroke="#111" stroke-width="0.8" />
<line x1="65.2" y1="513.7566949718158" x2="67.1" y2="513.7566949718158" stroke="#111" stroke-width="0.8" />
<line x1="65.2" y1="513.2420168725063" x2="67.1" y2="513.2420168725063" stroke="#111" stroke-width="0.8" />
<line x1="65.2" y1="512.8068627399073" x2="67.1" y2="512.8068627399073" stroke="#111" stroke-width="0.8" />
<line x1="65.2" y1="512.4299150845524" x2="67.1" y2="512.4299150845524" stroke="#111" stroke-width="0.8" />
<line x1="65.2" y1="512.0974236886443" x2="67.1" y2="512.0974236886443" stroke="#111" stroke-width="0.8" />
<line x1="65.2" y1="509.8433050281841" x2="67.1" y2="509.8433050281841" stroke="#111" stroke-width="0.8" />
<line x1="65.2" y1="508.69871184432213" x2="67.1" y2="508.69871184432213" stroke="#111" stroke-width="0.8" />
<line x1="65.2" y1="507.8866100563682" x2="67.1" y2="507.8866100563682" stroke="#111" stroke-width="0.8" />
<line x1="65.2" y1="507.2566949718158" x2="67.1" y2="507.2566949718158" stroke="#111" stroke-width="0.8" />
<line x1="65.2" y1="506.74201687250627" x2="67.1" y2="506.74201687250627" stroke="#111" stroke-width="0.8" />
<line x1="65.2" y1="506.3068627399073" x2="67.1" y2="506.3068627399073" stroke="#111" stroke-width="0.8" />
<line x1="65.2" y1="505.9299150845523" x2="67.1" y2="505.9299150845523" stroke="#111" stroke-width="0.8" />
<line x1="65.2" y1="505.59742368864437" x2="67.1" y2="505.59742368864437" stroke="#111" stroke-width="0.8" />
<line x1="65.2" y1="503.3433050281841" x2="67.1" y2="503.3433050281841" stroke="#111" stroke-width="0.8" />
<line x1="65.2" y1="502.19871184432213" x2="67.1" y2="502.19871184432213" stroke="#111" stroke-width="0.8" />
<line x1="65.2" y1="501.3866100563682" x2="67.1" y2="501.3866100563682" stroke="#111" stroke-width="0.8" />
<line x1="65.2" y1="500.7566949718158" x2="67.1" y2="500.7566949718158" stroke="#111" stroke-width="0.8" />
<line x1="65.2" y1="500.24201687250627" x2="67.1" y2="500.24201687250627" stroke="#111" stroke-width="0.8" />
<line x1="65.2" y1="499.8068627399073" x2="67.1" y2="499.8068627399073" stroke="#111" stroke-width="0.8" />
<line x1="65.2" y1="499.4299150845523" x2="67.1" y2="499.4299150845523" stroke="#111" stroke-width="0.8" />
<line x1="65.2" y1="499.09742368864437" x2="67.1" y2="499.09742368864437" stroke="#111" stroke-width="0.8" />
<line x1="65.2" y1="496.8433050281841" x2="67.1" y2="496.8433050281841" stroke="#111" stroke-width="0.8" />
<line x1="65.2" y1="495.69871184432213" x2="67.1" y2="495.69871184432213" stroke="#111" stroke-width="0.8" />
<line x1="65.2" y1="494.8866100563682" x2="67.1" y2="494.8866100563682" stroke="#111" stroke-width="0.8" />
<line x1="65.2" y1="494.2566949718158" x2="67.1" y2="494.2566949718158" stroke="#111" stroke-width="0.8" />
<line x1="65.2" y1="493.74201687250627" x2="67.1" y2="493.74201687250627" stroke="#111" stroke-width="0.8" />
<line x1="65.2" y1="493.3068627399073" x2="67.1" y2="493.3068627399073" stroke="#111" stroke-width="0.8" />
<line x1="65.2" y1="492.9299150845523" x2="67.1" y2="492.9299150845523" stroke="#111" stroke-width="0.8" />
<line x1="65.2" y1="492.59742368864437" x2="67.1" y2="492.59742368864437" stroke="#111" stroke-width="0.8" />
<line x1="65.2" y1="490.3433050281841" x2="67.1" y2="490.3433050281841" stroke="#111" stroke-width="0.8" />
<line x1="65.2" y1="489.19871184432213" x2="67.1" y2="489.19871184432213" stroke="#111" stroke-width="0.8" />
<line x1="65.2" y1="488.3866100563682" x2="67.1" y2="488.3866100563682" stroke="#111" stroke-width="0.8" />
<line x1="65.2" y1="487.7566949718158" x2="67.1" y2="487.7566949718158" stroke="#111" stroke-width="0.8" />
<line x1="65.2" y1="487.24201687250627" x2="67.1" y2="487.24201687250627" stroke="#111" stroke-width="0.8" />
<line x1="65.2" y1="486.8068627399073" x2="67.1" y2="486.8068627399073" stroke="#111" stroke-width="0.8" />
<line x1="65.2" y1="486.4299150845523" x2="67.1" y2="486.4299150845523" stroke="#111" stroke-width="0.8" />
<line x1="65.2" y1="486.09742368864437" x2="67.1" y2="486.09742368864437" stroke="#111" stroke-width="0.8" />
<line x1="65.2" y1="483.8433050281841" x2="67.1" y2="483.8433050281841" stroke="#111" stroke-width="0.8" />
<line x1="65.2" y1="482.69871184432213" x2="67.1" y2="482.69871184432213" stroke="#111" stroke-width="0.8" />
<line x1="65.2" y1="481.8866100563682" x2="67.1" y2="481.8866100563682" stroke="#111" stroke-width="0.8" />
<line x1="65.2" y1="481.2566949718158" x2="67.1" y2="481.2566949718158" stroke="#111" stroke-width="0.8" />
<line x1="65.2" y1="480.74201687250627" x2="67.1" y2="480.74201687250627" stroke="#111" stroke-width="0.8" />
<line x1="65.2" y1="480.3068627399073" x2="67.1" y2="480.3068627399073" stroke="#111" stroke-width="0.8" />
<line x1="65.2" y1="479.9299150845523" x2="67.1" y2="479.9299150845523" stroke="#111" stroke-width="0.8" />
<line x1="65.2" y1="479.59742368864437" x2="67.1" y2="479.59742368864437" stroke="#111" stroke-width="0.8" />
<line x1="65.2" y1="477.3433050281841" x2="67.1" y2="477.3433050281841" stroke="#111" stroke-width="0.8" />
<line x1="65.2" y1="476.19871184432213" x2="67.1" y2="476.19871184432213" stroke="#111" stroke-width="0.8" />
<line x1="65.2" y1="475.3866100563682" x2="67.1" y2="475.3866100563682" stroke="#111" stroke-width="0.8" />
<line x1="65.2" y1="474.7566949718158" x2="67.1" y2="474.7566949718158" stroke="#111" stroke-width="0.8" />
<line x1="65.2" y1="474.24201687250627" x2="67.1" y2="474.24201687250627" stroke="#111" stroke-width="0.8" />
<line x1="65.2" y1="473.8068627399073" x2="67.1" y2="473.8068627399073" stroke="#111" stroke-width="0.8" />
<line x1="65.2" y1="473.4299150845523" x2="67.1" y2="473.4299150845523" stroke="#111" stroke-width="0.8" />
<line x1="65.2" y1="473.09742368864437" x2="67.1" y2="473.09742368864437" stroke="#111" stroke-width="0.8" />
<line x1="65.2" y1="470.8433050281841" x2="67.1" y2="470.8433050281841" stroke="#111" stroke-width="0.8" />
<line x1="65.2" y1="469.69871184432213" x2="67.1" y2="469.69871184432213" stroke="#111" stroke-width="0.8" />
<line x1="65.2" y1="468.8866100563682" x2="67.1" y2="468.8866100563682" stroke="#111" stroke-width="0.8" />
<line x1="65.2" y1="468.2566949718158" x2="67.1" y2="468.2566949718158" stroke="#111" stroke-width="0.8" />
<line x1="65.2" y1="467.74201687250627" x2="67.1" y2="467.74201687250627" stroke="#111" stroke-width="0.8" />
<line x1="65.2" y1="467.3068627399073" x2="67.1" y2="467.3068627399073" stroke="#111" stroke-width="0.8" />
<line x1="65.2" y1="466.9299150845523" x2="67.1" y2="466.9299150845523" stroke="#111" stroke-width="0.8" />
<line x1="65.2" y1="466.59742368864437" x2="67.1" y2="466.59742368864437" stroke="#111" stroke-width="0.8" />
<line x1="65.2" y1="464.3433050281841" x2="67.1" y2="464.3433050281841" stroke="#111" stroke-width="0.8" />
<line x1="65.2" y1="463.19871184432213" x2="67.1" y2="463.19871184432213" stroke="#111" stroke-width="0.8" />
<line x1="65.2" y1="462.3866100563682" x2="67.1" y2="462.3866100563682" stroke="#111" stroke-width="0.8" />
<line x1="65.2" y1="461.7566949718158" x2="67.1" y2="461.7566949718158" stroke="#111" stroke-width="0.8" />
<line x1="65.2" y1="461.24201687250627" x2="67.1" y2="461.24201687250627" stroke="#111" stroke-width="0.8" />
<line x1="65.2" y1="460.8068627399073" x2="67.1" y2="460.8068627399073" stroke="#111" stroke-width="0.8" />
<line x1="65.2" y1="460.4299150845523" x2="67.1" y2="460.4299150845523" stroke="#111" stroke-width="0.8" />
<line x1="65.2" y1="460.09742368864437" x2="67.1" y2="460.09742368864437" stroke="#111" stroke-width="0.8" />
<rect x="72" y="543.1" width="8.200000000000003" height="14.199999999999932" fill="#6ca543" />
<line x1="74.0" y1="542.8000000000001" x2="78.19999999999999" y2="542.8000000000001" stroke="#222" stroke-width="1.3" />
<rect x="83.1" y="542.4" width="7.900000000000006" height="14.899999999999977" fill="#a20228" />
<line x1="84.95" y1="542.1" x2="89.14999999999999" y2="542.1" stroke="#222" stroke-width="1.3" />
<rect x="99.8" y="533.5" width="8.700000000000003" height="23.799999999999955" fill="#6ca543" />
<line x1="102.05000000000001" y1="533.2" x2="106.25" y2="533.2" stroke="#222" stroke-width="1.3" />
<rect x="111.1" y="525.9" width="8.5" height="31.399999999999977" fill="#a20228" />
<line x1="113.25" y1="525.6" x2="117.44999999999999" y2="525.6" stroke="#222" stroke-width="1.3" />
<rect x="138.8" y="509.3" width="8.5" height="47.99999999999994" fill="#a20228" />
<line x1="140.95000000000002" y1="509.0" x2="145.15" y2="509.0" stroke="#222" stroke-width="1.3" />
<rect x="166.5" y="492.9" width="8.5" height="64.39999999999998" fill="#a20228" />
<line x1="168.65" y1="492.59999999999997" x2="172.85" y2="492.59999999999997" stroke="#222" stroke-width="1.3" />
<rect x="194.2" y="458.5" width="8.600000000000023" height="98.79999999999995" fill="#a20228" />
<line x1="196.4" y1="458.2" x2="200.6" y2="458.2" stroke="#222" stroke-width="1.3" />
<line x1="81.5" y1="557.3" x2="81.5" y2="560.5" stroke="#111" stroke-width="1" />
<line x1="109.7" y1="557.3" x2="109.7" y2="560.5" stroke="#111" stroke-width="1" />
<line x1="137.6" y1="557.3" x2="137.6" y2="560.5" stroke="#111" stroke-width="1" />
<line x1="165.8" y1="557.3" x2="165.8" y2="560.5" stroke="#111" stroke-width="1" />
<line x1="194" y1="557.3" x2="194" y2="560.5" stroke="#111" stroke-width="1" />
<text x="85.0" y="567.5" font-size="9" text-anchor="end" font-weight="normal" fill="#111" transform="rotate(-45 85.0 567.5)" >1°CFC</text>
<text x="113.2" y="567.5" font-size="9" text-anchor="end" font-weight="normal" fill="#111" transform="rotate(-45 113.2 567.5)" >2°CFC</text>
<text x="141.1" y="567.5" font-size="9" text-anchor="end" font-weight="normal" fill="#111" transform="rotate(-45 141.1 567.5)" >3°CFC</text>
<text x="169.3" y="567.5" font-size="9" text-anchor="end" font-weight="normal" fill="#111" transform="rotate(-45 169.3 567.5)" >4°CFC</text>
<text x="197.5" y="567.5" font-size="9" text-anchor="end" font-weight="normal" fill="#111" transform="rotate(-45 197.5 567.5)" >5°CFC</text>
<polyline fill="none" stroke="#1a1a1a" stroke-width="1.1" points="73.7,539.5 73.7,537.6 89.8,537.6 89.8,539.5"/>
<circle cx="81.9" cy="533" r="1.0" fill="#1a1a1a" stroke="none" stroke-width="1"/>
<rect x="218.2" y="452.3" width="11.3" height="6.9" fill="#a20228" />
<text x="233.1" y="458.5" font-size="8.5" text-anchor="start" font-weight="normal" fill="#111" textLength="18.5" lengthAdjust="spacingAndGlyphs" >Cdx4</text>
<rect x="218.2" y="465.1" width="11.3" height="6.7" fill="#6ca543" />
<text x="233.1" y="471.2" font-size="8.5" text-anchor="start" font-weight="normal" fill="#111" textLength="37.9" lengthAdjust="spacingAndGlyphs" >Vector Ctrl</text>
<text x="0" y="0" font-size="10" font-weight="bold" fill="#111" textLength="95.3" lengthAdjust="spacingAndGlyphs" transform="translate(26,554.5) rotate(-90)">No.of colonies per 500 cells</text>
<text x="0" y="0" font-size="10" font-weight="bold" fill="#111" textLength="104.7" lengthAdjust="spacingAndGlyphs" transform="translate(38.5,558.9) rotate(-90)">plated in 1- CFC (Log10 scale)</text>
<line x1="354.3" y1="440.4" x2="354.3" y2="474" stroke="#111" stroke-width="1.3" />
<line x1="351.2" y1="474" x2="357.9" y2="474" stroke="#111" stroke-width="1.4" />
<line x1="351.2" y1="482.8" x2="357.9" y2="482.8" stroke="#111" stroke-width="1.4" />
<line x1="354.3" y1="482.8" x2="354.3" y2="557.8" stroke="#111" stroke-width="1.3" />
<line x1="354.3" y1="557.3" x2="501.7" y2="557.3" stroke="#111" stroke-width="1.3" />
<line x1="351.2" y1="442.7" x2="354.3" y2="442.7" stroke="#111" stroke-width="1" />
<text x="347.6" y="443.09999999999997" font-size="5.4" text-anchor="end" fill="#111" textLength="4.9" lengthAdjust="spacingAndGlyphs">14</text>
<text x="341.6" y="445.8" font-size="8.2" text-anchor="end" fill="#111" textLength="27.3" lengthAdjust="spacingAndGlyphs">3.0x10</text>
<line x1="351.2" y1="453.7" x2="354.3" y2="453.7" stroke="#111" stroke-width="1" />
<text x="347.6" y="454.09999999999997" font-size="5.4" text-anchor="end" fill="#111" textLength="4.9" lengthAdjust="spacingAndGlyphs">14</text>
<text x="341.6" y="456.8" font-size="8.2" text-anchor="end" fill="#111" textLength="27.3" lengthAdjust="spacingAndGlyphs">2.0x10</text>
<line x1="351.2" y1="464.4" x2="354.3" y2="464.4" stroke="#111" stroke-width="1" />
<text x="347.6" y="464.79999999999995" font-size="5.4" text-anchor="end" fill="#111" textLength="4.9" lengthAdjust="spacingAndGlyphs">14</text>
<text x="341.6" y="467.5" font-size="8.2" text-anchor="end" fill="#111" textLength="27.3" lengthAdjust="spacingAndGlyphs">1.0x10</text>
<line x1="351.2" y1="482.9" x2="354.3" y2="482.9" stroke="#111" stroke-width="1" />
<text x="347.9" y="483.29999999999995" font-size="5.4" text-anchor="end" fill="#111" textLength="2.45" lengthAdjust="spacingAndGlyphs">8</text>
<text x="343.95" y="486.0" font-size="8.2" text-anchor="end" fill="#111" textLength="26.4" lengthAdjust="spacingAndGlyphs">4.0x10</text>
<line x1="351.2" y1="501.9" x2="354.3" y2="501.9" stroke="#111" stroke-width="1" />
<text x="347.9" y="502.29999999999995" font-size="5.4" text-anchor="end" fill="#111" textLength="2.45" lengthAdjust="spacingAndGlyphs">8</text>
<text x="343.95" y="505.0" font-size="8.2" text-anchor="end" fill="#111" textLength="26.4" lengthAdjust="spacingAndGlyphs">3.0x10</text>
<line x1="351.2" y1="520.2" x2="354.3" y2="520.2" stroke="#111" stroke-width="1" />
<text x="347.9" y="520.6" font-size="5.4" text-anchor="end" fill="#111" textLength="2.45" lengthAdjust="spacingAndGlyphs">8</text>
<text x="343.95" y="523.3000000000001" font-size="8.2" text-anchor="end" fill="#111" textLength="26.4" lengthAdjust="spacingAndGlyphs">2.0x10</text>
<line x1="351.2" y1="538.7" x2="354.3" y2="538.7" stroke="#111" stroke-width="1" />
<text x="347.9" y="539.1" font-size="5.4" text-anchor="end" fill="#111" textLength="2.45" lengthAdjust="spacingAndGlyphs">8</text>
<text x="343.95" y="541.8000000000001" font-size="8.2" text-anchor="end" fill="#111" textLength="26.4" lengthAdjust="spacingAndGlyphs">1.0x10</text>
<line x1="351.2" y1="557.3" x2="354.3" y2="557.3" stroke="#111" stroke-width="1" />
<text x="348.3" y="560.2" font-size="8.4" text-anchor="end" font-weight="normal" fill="#111" >0</text>
<line x1="390.4" y1="557.3" x2="390.4" y2="560" stroke="#111" stroke-width="1" />
<text x="391.0" y="571.9" font-size="8.5" text-anchor="middle" font-weight="normal" fill="#111" textLength="25.8" lengthAdjust="spacingAndGlyphs" >1°CFC</text>
<line x1="464.5" y1="557.3" x2="464.5" y2="560" stroke="#111" stroke-width="1" />
<text x="464.2" y="571.9" font-size="8.5" text-anchor="middle" font-weight="normal" fill="#111" textLength="27" lengthAdjust="spacingAndGlyphs" >3°CFC</text>
<text x="0" y="0" font-size="10" font-weight="bold" fill="#111" textLength="100.7" lengthAdjust="spacingAndGlyphs" transform="translate(308.6,548.7) rotate(-90)">Total GFP<tspan font-size="6.5" dy="-3.2">+</tspan><tspan dy="3.2"> Ter119</tspan><tspan font-size="6.5" dy="-3.2">+</tspan><tspan dy="3.2"> cell number</tspan></text>
<rect x="364.6" y="448.2" width="4.3" height="4.6" fill="#a20228" />
<text x="372.6" y="453" font-size="8.5" text-anchor="start" font-weight="normal" fill="#111" textLength="18.2" lengthAdjust="spacingAndGlyphs" >Cdx4</text>
<circle cx="366.7" cy="463.1" r="2.3" fill="#6ca543" stroke="none" stroke-width="1"/>
<text x="372.6" y="465.7" font-size="8.5" text-anchor="start" font-weight="normal" fill="#111" textLength="37.7" lengthAdjust="spacingAndGlyphs" >Vector Ctrl</text>
<polyline fill="none" stroke="#1a1a1a" stroke-width="1.1" points="401.3,441 401.3,438.2 485.6,438.2 485.6,441"/>
<circle cx="443.4" cy="433.8" r="1.0" fill="#1a1a1a" stroke="none" stroke-width="1"/>
<polyline fill="none" stroke="#1a1a1a" stroke-width="1.1" points="372.6,521.4 372.6,518.7 413,518.7 413,521.4"/>
<circle cx="392.8" cy="514.3" r="1.0" fill="#1a1a1a" stroke="none" stroke-width="1"/>
<circle cx="377.6" cy="543.6" r="2.6" fill="#6ca543" stroke="none" stroke-width="1"/>
<circle cx="371.5" cy="555" r="2.6" fill="#6ca543" stroke="none" stroke-width="1"/>
<circle cx="375.5" cy="555.5" r="2.6" fill="#6ca543" stroke="none" stroke-width="1"/>
<circle cx="379.5" cy="555.2" r="2.6" fill="#6ca543" stroke="none" stroke-width="1"/>
<circle cx="383.5" cy="555.5" r="2.6" fill="#6ca543" stroke="none" stroke-width="1"/>
<circle cx="381" cy="553" r="2.6" fill="#6ca543" stroke="none" stroke-width="1"/>
<circle cx="373" cy="554" r="2.6" fill="#6ca543" stroke="none" stroke-width="1"/>
<line x1="368.2" y1="554.1" x2="387" y2="554.1" stroke="#6ca543" stroke-width="1.2" />
<line x1="377.6" y1="552" x2="377.6" y2="556.4" stroke="#111" stroke-width="1" />
<line x1="372.2" y1="552" x2="383" y2="552" stroke="#111" stroke-width="1" />
<line x1="372.2" y1="556.4" x2="383" y2="556.4" stroke="#111" stroke-width="1" />
<rect x="402.6" y="527.6999999999999" width="4.4" height="4.4" fill="#a20228" />
<rect x="396.90000000000003" y="539.6999999999999" width="4.4" height="4.4" fill="#a20228" />
<rect x="408.6" y="539.0" width="4.4" height="4.4" fill="#a20228" />
<rect x="396.90000000000003" y="551.5" width="4.4" height="4.4" fill="#a20228" />
<rect x="402.6" y="553.0999999999999" width="4.4" height="4.4" fill="#a20228" />
<rect x="408.6" y="553.0999999999999" width="4.4" height="4.4" fill="#a20228" />
<rect x="402.40000000000003" y="546.1999999999999" width="4.4" height="4.4" fill="#a20228" />
<line x1="395.8" y1="546.3" x2="414.3" y2="546.3" stroke="#a20228" stroke-width="1.2" />
<line x1="404.8" y1="543" x2="404.8" y2="550.1" stroke="#111" stroke-width="1" />
<line x1="400" y1="543" x2="409.6" y2="543" stroke="#111" stroke-width="1" />
<line x1="400" y1="550.1" x2="409.6" y2="550.1" stroke="#111" stroke-width="1" />
<rect x="472.3" y="444.3" width="4.4" height="4.4" fill="#a20228" />
<rect x="479.90000000000003" y="448.2" width="4.4" height="4.4" fill="#a20228" />
<rect x="476.1" y="465.40000000000003" width="4.4" height="4.4" fill="#a20228" />
<line x1="469.2" y1="454.9" x2="487.9" y2="454.9" stroke="#a20228" stroke-width="1.2" />
<line x1="478.7" y1="448.5" x2="478.7" y2="461.5" stroke="#111" stroke-width="1" />
<line x1="473.2" y1="448.5" x2="484" y2="448.5" stroke="#111" stroke-width="1" />
<line x1="473.2" y1="461.5" x2="484" y2="461.5" stroke="#111" stroke-width="1" />
</svg>
</body></html>
